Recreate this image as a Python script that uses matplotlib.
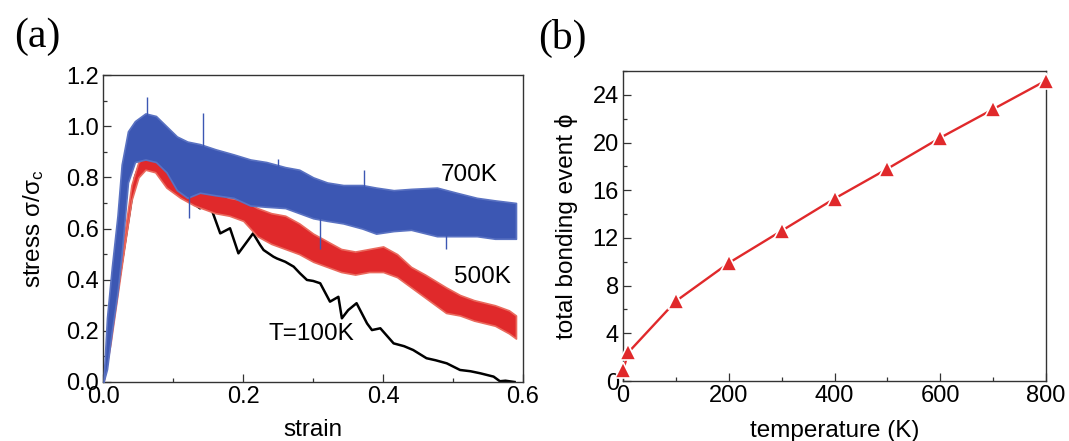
import numpy as np
import matplotlib
matplotlib.use('Agg')
import matplotlib.pyplot as plt
from matplotlib.ticker import MultipleLocator

plt.rcParams['font.family'] = ['Liberation Sans', 'DejaVu Sans']
plt.rcParams['mathtext.fontset'] = 'custom'
plt.rcParams['mathtext.rm'] = 'Liberation Sans'
plt.rcParams['mathtext.it'] = 'Liberation Sans:italic'

# ---- panel (a): stress-strain curves ----
black_strain = [0.0, 0.045, 0.065, 0.078, 0.083, 0.089, 0.100, 0.117, 0.128, 0.138,
                0.146, 0.155, 0.167, 0.181, 0.193, 0.214, 0.224, 0.229, 0.243, 0.248,
                0.260, 0.272, 0.281, 0.291, 0.300, 0.310, 0.324, 0.336, 0.341, 0.350,
                0.362, 0.377, 0.384, 0.396, 0.415, 0.430, 0.443, 0.462, 0.475, 0.491,
                0.510, 0.525, 0.539, 0.558, 0.567, 0.575, 0.588]
black_stress = [0.0, 0.80, 0.95, 0.99, 0.985, 0.946, 0.83, 0.718, 0.70, 0.679,
                0.69, 0.672, 0.581, 0.601, 0.503, 0.581, 0.536, 0.516, 0.49, 0.483,
                0.47, 0.451, 0.425, 0.399, 0.395, 0.386, 0.314, 0.333, 0.249, 0.281,
                0.308, 0.229, 0.203, 0.21, 0.151, 0.14, 0.125, 0.093, 0.085, 0.073,
                0.047, 0.042, 0.034, 0.021, 0.003, 0.005, 0.0]

red_strain = [0.0, 0.01, 0.02, 0.03, 0.04, 0.05, 0.06, 0.074, 0.09, 0.11, 0.13, 0.16,
              0.18, 0.20, 0.22, 0.24, 0.26, 0.28, 0.30, 0.32, 0.34, 0.36, 0.38, 0.40,
              0.42, 0.44, 0.46, 0.49, 0.51, 0.53, 0.56, 0.58, 0.59]
red_low = [0.0, 0.15, 0.34, 0.53, 0.71, 0.80, 0.83, 0.82, 0.76, 0.72, 0.69, 0.66,
           0.65, 0.63, 0.57, 0.54, 0.52, 0.50, 0.47, 0.45, 0.43, 0.42, 0.43, 0.43,
           0.41, 0.37, 0.33, 0.27, 0.26, 0.24, 0.22, 0.19, 0.17]
red_high = [0.0, 0.20, 0.39, 0.58, 0.77, 0.86, 0.88, 0.89, 0.84, 0.80, 0.77, 0.74,
            0.72, 0.71, 0.68, 0.66, 0.65, 0.62, 0.58, 0.55, 0.52, 0.51, 0.52, 0.53,
            0.50, 0.45, 0.42, 0.37, 0.34, 0.32, 0.30, 0.28, 0.26]

blue_strain = [0.0, 0.005, 0.012, 0.02, 0.026, 0.035, 0.045, 0.06, 0.075, 0.09, 0.105,
               0.12, 0.138, 0.16, 0.186, 0.21, 0.233, 0.26, 0.28, 0.30, 0.32, 0.343,
               0.37, 0.39, 0.415, 0.44, 0.477, 0.505, 0.534, 0.56, 0.59]
blue_low = [0.0, 0.05, 0.20, 0.35, 0.50, 0.78, 0.86, 0.87, 0.86, 0.82, 0.75,
            0.72, 0.74, 0.73, 0.72, 0.69, 0.685, 0.68, 0.66, 0.64, 0.63, 0.62,
            0.60, 0.58, 0.59, 0.595, 0.57, 0.57, 0.57, 0.56, 0.56]
blue_high = [0.0, 0.25, 0.45, 0.65, 0.85, 0.98, 1.02, 1.05, 1.04, 1.00, 0.96,
             0.94, 0.93, 0.91, 0.89, 0.87, 0.86, 0.84, 0.83, 0.80, 0.78, 0.77,
             0.77, 0.76, 0.75, 0.755, 0.76, 0.74, 0.72, 0.71, 0.70]
# isolated spikes visible in the 700K noise
blue_spike_x = [0.062, 0.123, 0.143, 0.250, 0.310, 0.372, 0.490]
blue_spike_lo = [1.00, 0.64, 0.90, 0.80, 0.52, 0.74, 0.52]
blue_spike_hi = [1.115, 0.74, 1.05, 0.87, 0.65, 0.83, 0.58]

# ---- panel (b): total bonding events vs temperature ----
temperature = [0, 10, 100, 200, 300, 400, 500, 600, 700, 800]
bonding = [0.9, 2.4, 6.7, 9.9, 12.6, 15.3, 17.8, 20.4, 22.8, 25.2]

BLUE = '#3c57b3'
BLUE_EDGE = '#5a72c2'
RED = '#e0292b'
RED_EDGE = '#ea6a5e'
SPINE = '#333333'

fig = plt.figure(figsize=(10.69, 4.41), dpi=100)
ax1 = fig.add_axes([0.0968, 0.1338, 0.3924, 0.696])
ax2 = fig.add_axes([0.5828, 0.136, 0.3957, 0.703])

ax1.plot(black_strain, black_stress, color='black', lw=1.8, zorder=1)
ax1.fill_between(red_strain, red_low, red_high, facecolor=RED, edgecolor=RED_EDGE,
                 lw=1.2, zorder=2)
ax1.fill_between(blue_strain, blue_low, blue_high, facecolor=BLUE, edgecolor=BLUE_EDGE,
                 lw=1.2, zorder=3)
ax1.vlines(blue_spike_x, blue_spike_lo, blue_spike_hi, color=BLUE, lw=1.0, zorder=3)

ax1.set_xlim(0, 0.6)
ax1.set_ylim(0, 1.2)
ax1.xaxis.set_major_locator(MultipleLocator(0.2))
ax1.xaxis.set_minor_locator(MultipleLocator(0.1))
ax1.yaxis.set_major_locator(MultipleLocator(0.2))
ax1.yaxis.set_minor_locator(MultipleLocator(0.1))
ax1.xaxis.set_major_formatter(plt.FormatStrFormatter('%.1f'))
ax1.yaxis.set_major_formatter(plt.FormatStrFormatter('%.1f'))

ax1.text(0.523, 0.809, '700K', fontsize=17.5, ha='center', va='center')
ax1.text(0.542, 0.410, '500K', fontsize=17.5, ha='center', va='center')
ax1.text(0.298, 0.186, 'T=100K', fontsize=17.5, ha='center', va='center')

ax1.set_xlabel('strain', fontsize=17.5)
ax1.set_ylabel(r'stress $\mathregular{\sigma/\sigma_c}$', fontsize=17.5)
ax1.xaxis.set_label_coords(0.5, -0.122)
ax1.yaxis.set_label_coords(-0.137, 0.5)

ax2.plot(temperature, bonding, color=RED, lw=1.7, marker='^', markersize=11.5,
         markerfacecolor=RED, markeredgecolor='white', markeredgewidth=1.2,
         clip_on=False, zorder=3)
ax2.set_xlim(0, 800)
ax2.set_ylim(0, 26)
ax2.xaxis.set_major_locator(MultipleLocator(200))
ax2.xaxis.set_minor_locator(MultipleLocator(100))
ax2.yaxis.set_major_locator(MultipleLocator(4))
ax2.yaxis.set_minor_locator(MultipleLocator(2))
ax2.set_xlabel('temperature (K)', fontsize=17.5)
ax2.set_ylabel('total bonding event ϕ', fontsize=17.5)
ax2.xaxis.set_label_coords(0.5, -0.125)
ax2.yaxis.set_label_coords(-0.106, 0.5)

for ax in (ax1, ax2):
    for sp in ax.spines.values():
        sp.set_color(SPINE)
        sp.set_linewidth(1.0)
    ax.tick_params(which='both', direction='in', top=False, right=False,
                   labelsize=17, color=SPINE, pad=3)
    ax.tick_params(which='major', length=5.5, width=0.9)
    ax.tick_params(which='minor', length=3, width=0.9)

fig.text(37 / 1069, 1 - 37 / 441, '(a)', fontsize=30, family='Liberation Serif',
         ha='center', va='center')
fig.text(562 / 1069, 1 - 38 / 441, '(b)', fontsize=30, family='Liberation Serif',
         ha='center', va='center')

plt.savefig('out.png', dpi=100)
plt.close()
